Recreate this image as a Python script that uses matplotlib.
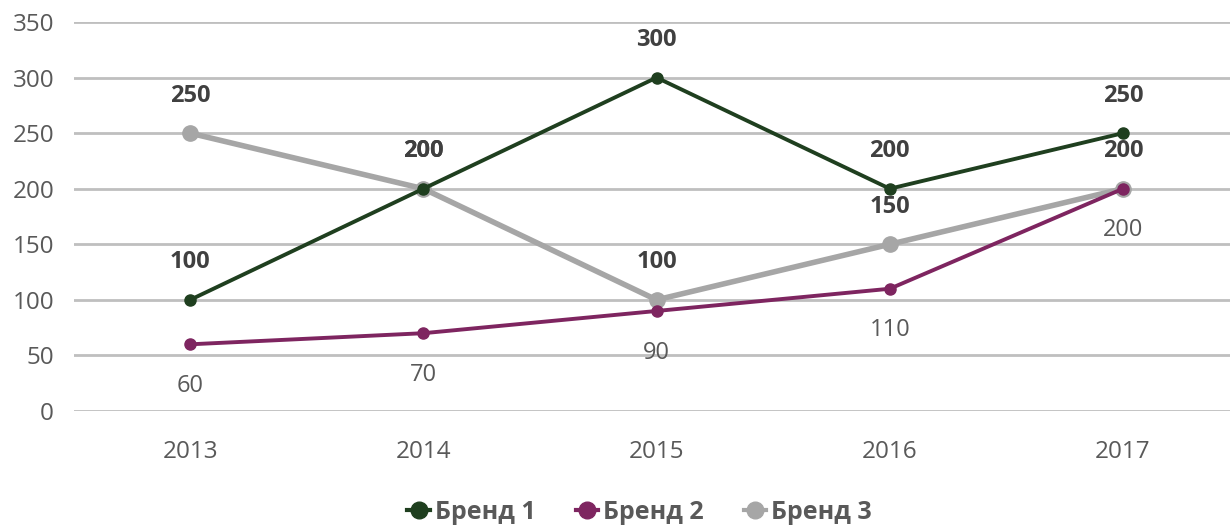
import matplotlib.pyplot as plt
from matplotlib.lines import Line2D

plt.rcParams['font.family'] = ['Open Sans', 'DejaVu Sans']

years = ["2013", "2014", "2015", "2016", "2017"]
brand1 = [100, 200, 300, 200, 250]
brand2 = [60, 70, 90, 110, 200]
brand3 = [250, 200, 100, 150, 200]
names = ["Бренд 1", "Бренд 2", "Бренд 3"]

c1 = "#1f3f1f"
c2 = "#7e2560"
c3 = "#a6a6a6"
txt = "#595959"

fig = plt.figure(figsize=(12.3, 5.28), dpi=100)
ax = fig.add_axes([0.0598, 0.2216, 0.948, 0.7367])

x = list(range(len(years)))
ax.plot(x, brand3, color=c3, lw=4, marker="o", ms=11, zorder=3)
ax.plot(x, brand2, color=c2, lw=2.8, marker="o", ms=8, zorder=4)
ax.plot(x, brand1, color=c1, lw=2.8, marker="o", ms=8, zorder=5)

for xi, v in zip(x, brand1):
    ax.annotate(str(v), (xi, v), xytext=(0, 27), textcoords="offset points",
                ha="center", va="center", fontsize=17, fontweight="bold", color="#404040")
for xi, v in zip(x, brand3):
    ax.annotate(str(v), (xi, v), xytext=(0, 27), textcoords="offset points",
                ha="center", va="center", fontsize=17, fontweight="bold", color="#404040")
for xi, v in zip(x, brand2):
    ax.annotate(str(v), (xi, v), xytext=(0, -30), textcoords="offset points",
                ha="center", va="center", fontsize=17, color=txt)

ax.set_xlim(-0.5, len(years) - 0.5)
ax.set_ylim(0, 350)
ax.set_yticks(range(0, 351, 50))
ax.set_xticks(x)
ax.set_xticklabels(years)
ax.grid(axis="y", color="#bfbfbf", lw=2)
ax.set_axisbelow(True)
for s in ax.spines.values():
    s.set_visible(False)
ax.tick_params(length=0, labelsize=17.5, colors=txt)
ax.tick_params(axis="x", pad=21)
ax.tick_params(axis="y", pad=14)

handles = [Line2D([], [], color=c, lw=3, marker="o", ms=12) for c in (c1, c2, c3)]
leg = fig.legend(handles, names, loc="center", bbox_to_anchor=(0.52, 0.03), ncol=3,
                 frameon=False, handlelength=0.9, handletextpad=0.2, columnspacing=1.6,
                 prop={"size": 18, "weight": "bold"})
for t in leg.get_texts():
    t.set_color(txt)

fig.savefig("out.png", dpi=100)
